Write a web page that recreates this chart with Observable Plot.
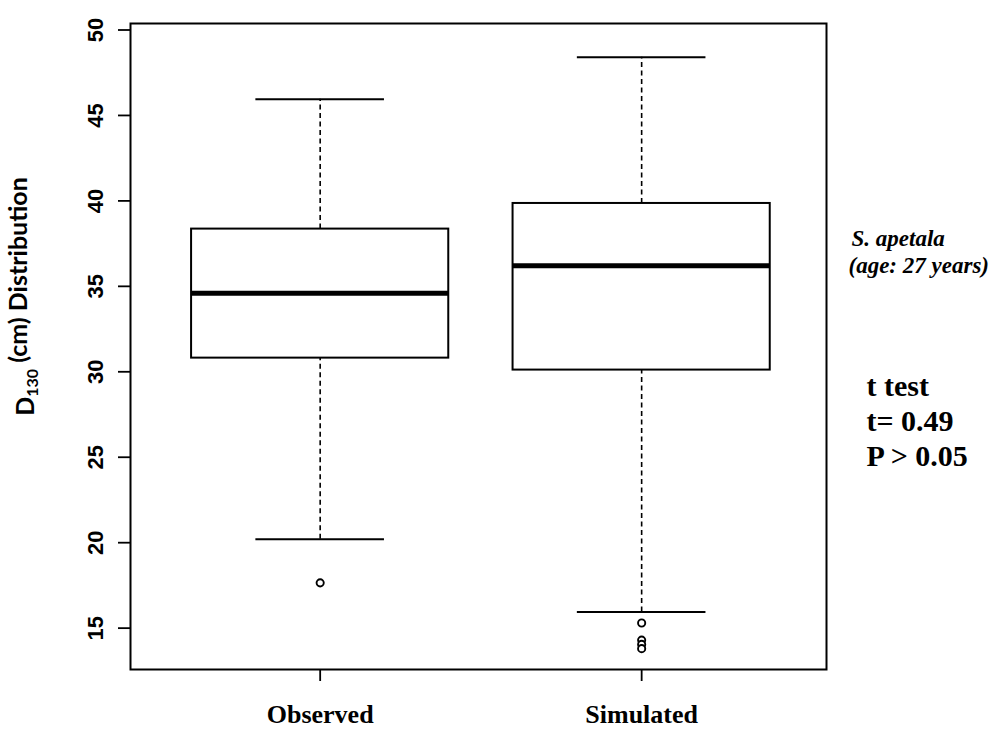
<!DOCTYPE html>
<html>
<head>
<meta charset="utf-8">
<script src="https://cdn.jsdelivr.net/npm/d3@7"></script>
<script src="https://cdn.jsdelivr.net/npm/@observablehq/plot@0.6"></script>
<style>
  html, body { margin: 0; padding: 0; background: #fff; }
  #chart svg { display: block; }
</style>
</head>
<body>
<div id="chart"></div>
<script>
// ---- data ----
const groups = ["Observed", "Simulated"];
const q1 = [30.8, 30.1];
const medians = [34.6, 36.2];
const q3 = [38.35, 39.85];
const whiskerLow = [20.2, 15.95];
const whiskerHigh = [45.95, 48.4];
const outlierGroup = ["Observed", "Simulated", "Simulated", "Simulated", "Simulated"];
const outlierValue = [17.65, 15.3, 14.3, 14.05, 13.8];
const yTicks = [15, 20, 25, 30, 35, 40, 45, 50];
const yLabel = "D130 (cm) Distribution";
const speciesLine = "S. apetala";
const ageLine = "(age: 27 years)";
const testLines = ["t test", "t= 0.49", "P > 0.05"];

// ---- tables built from the arrays ----
const boxes = groups.map((g, i) => ({
  g, pos: i + 1, q1: q1[i], med: medians[i], q3: q3[i], lo: whiskerLow[i], hi: whiskerHigh[i]
}));
const outliers = outlierGroup.map((g, i) => ({ pos: groups.indexOf(g) + 1, v: outlierValue[i] }));

const HALF = 0.4, STAPLE = 0.2;
const serif = "Liberation Serif, Times New Roman, serif";

const chart = Plot.plot({
  width: 1003,
  height: 729,
  marginLeft: 130,
  marginRight: 177,
  marginTop: 23,
  marginBottom: 60,
  style: { background: "white", color: "black" },
  x: { type: "linear", domain: [0.41, 2.575] },
  y: { domain: [12.58, 50.38] },
  marks: [
    // whiskers (dashed)
    Plot.ruleX(boxes, { x: "pos", y1: "q3", y2: "hi", stroke: "black", strokeWidth: 1.6, strokeDasharray: "5,3.5" }),
    Plot.ruleX(boxes, { x: "pos", y1: "lo", y2: "q1", stroke: "black", strokeWidth: 1.6, strokeDasharray: "5,3.5" }),
    // staples
    Plot.ruleY(boxes, { y: "hi", x1: d => d.pos - STAPLE, x2: d => d.pos + STAPLE, stroke: "black", strokeWidth: 2 }),
    Plot.ruleY(boxes, { y: "lo", x1: d => d.pos - STAPLE, x2: d => d.pos + STAPLE, stroke: "black", strokeWidth: 2 }),
    // boxes
    Plot.rect(boxes, { x1: d => d.pos - HALF, x2: d => d.pos + HALF, y1: "q1", y2: "q3", fill: "white", stroke: "black", strokeWidth: 2 }),
    // medians
    Plot.ruleY(boxes, { y: "med", x1: d => d.pos - HALF, x2: d => d.pos + HALF, stroke: "black", strokeWidth: 5 }),
    // outliers
    Plot.dot(outliers, { x: "pos", y: "v", r: 3.6, stroke: "black", strokeWidth: 1.9, fill: "white" }),
    // frame
    Plot.frame({ stroke: "black", strokeWidth: 2 }),
    // axes
    Plot.axisY({
      ticks: yTicks, tickSize: 12, tickPadding: 23, tickRotate: -90,
      textAnchor: "middle", lineAnchor: "middle",
      fontSize: 22, fontWeight: "bold", fontFamily: "Liberation Sans, Arial, sans-serif",
      strokeWidth: 1.8, label: null
    }),
    Plot.axisX({
      ticks: groups.map((g, i) => i + 1), tickFormat: d => groups[d - 1],
      tickSize: 12, tickPadding: 23, fontSize: 26, fontFamily: serif, fontWeight: "bold",
      strokeWidth: 1.8, label: null
    }),
    // y title
    Plot.text([yLabel], {
      frameAnchor: "left", dx: -105, dy: -50, rotate: -90,
      textAnchor: "middle", lineAnchor: "middle",
      fontSize: 25, fontWeight: "bold", fontFamily: "Lato, Open Sans, sans-serif"
    }),
    // annotations on the right
    Plot.text([speciesLine], {
      frameAnchor: "top-right", dx: 25, dy: 215, textAnchor: "start", lineAnchor: "middle",
      fontSize: 23, fontWeight: "bold", fontStyle: "italic", fontFamily: serif
    }),
    Plot.text([ageLine], {
      frameAnchor: "top-right", dx: 22, dy: 242, textAnchor: "start", lineAnchor: "middle",
      fontSize: 23, fontWeight: "bold", fontStyle: "italic", fontFamily: serif
    }),
    Plot.text([testLines[0]], {
      frameAnchor: "top-right", dx: 40, dy: 363, textAnchor: "start", lineAnchor: "middle",
      fontSize: 30, fontWeight: "bold", fontFamily: serif
    }),
    Plot.text([testLines[1]], {
      frameAnchor: "top-right", dx: 40, dy: 398, textAnchor: "start", lineAnchor: "middle",
      fontSize: 30, fontWeight: "bold", fontFamily: serif
    }),
    Plot.text([testLines[2]], {
      frameAnchor: "top-right", dx: 40, dy: 433, textAnchor: "start", lineAnchor: "middle",
      fontSize: 30, fontWeight: "bold", fontFamily: serif
    })
  ]
});

document.getElementById("chart").appendChild(chart);

// subscript "130" in the y title
d3.select(chart).selectAll("text").each(function () {
  const t = d3.select(this);
  if (t.text() === yLabel) {
    t.text(null);
    t.append("tspan").text("D");
    t.append("tspan").attr("dy", "0.3em").attr("font-size", "16px").text("130");
    t.append("tspan").attr("dy", "-0.45em").text(" (cm) Distribution");
  }
});
</script>
</body>
</html>
